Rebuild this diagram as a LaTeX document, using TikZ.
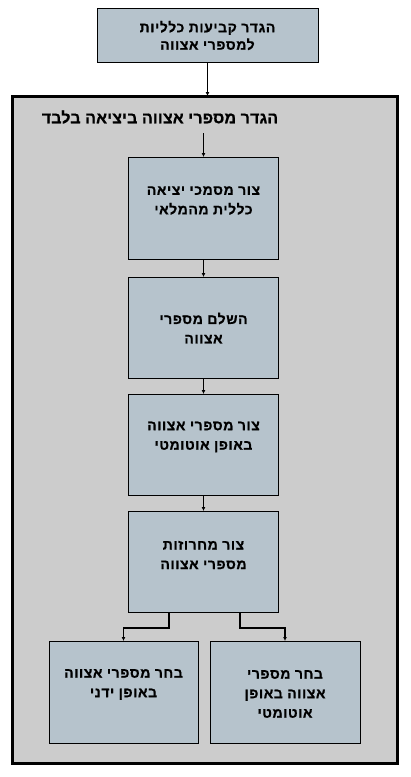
\documentclass[tikz,border=0pt]{standalone}
\usepackage{fontspec}
\newfontfamily\hebfont[Script=Hebrew, LetterSpace=4, FakeBold=0.8]{Liberation Sans}
\newfontfamily\hebtitle[Script=Hebrew, LetterSpace=1, FakeBold=0.8]{Liberation Sans}
\TeXXeTstate=1
\usetikzlibrary{arrows.meta}
\definecolor{boxfill}{HTML}{B6C3CC}
\definecolor{framefill}{HTML}{CCCCCC}
\newcommand{\heb}[1]{\beginR #1\endR}
\begin{document}
\begin{tikzpicture}[x=1pt,y=-1pt,
  boxst/.style={draw=black, line width=0.8pt, fill=boxfill, inner sep=0, outer sep=0},
  lbl/.style={font=\hebfont\bfseries\fontsize{14}{19.5}\selectfont, align=center, inner sep=0},
  conn/.style={line width=0.8pt, -{Latex[length=4pt,width=4pt]}},
  connb/.style={line width=1.8pt, -{Latex[length=4pt,width=4pt]}},
  connm/.style={line width=1.5pt, -{Latex[length=4pt,width=4pt]}}]
\useasboundingbox (0,0) rectangle (410,777);
% outer frame
\node[draw=black, line width=3pt, fill=framefill, minimum width=385pt, minimum height=667pt, inner sep=0, outer sep=0] (frame) at (204.5,429.5) {};
% top box
\node[boxst, minimum width=221pt, minimum height=54pt] (b0) at (207.5,35) {};
\node[lbl, font=\hebfont\bfseries\fontsize{14}{17.5}\selectfont] (t0) at (207.5,35.5) {\heb{הגדר קביעות כלליות}\\\heb{למספרי אצווה}};
% title
\node[inner sep=0, font=\hebtitle\bfseries\fontsize{16}{18}\selectfont] (title) at (160,117) {\heb{הגדר מספרי אצווה ביציאה בלבד}};
\coordinate (c0) at (203.5,133);
% boxes
\node[boxst, minimum width=150pt, minimum height=102pt] (b1) at (203.5,208) {};
\node[lbl] (t1) at (203.5,200.5) {\heb{צור מסמכי יציאה}\\\heb{כללית מהמלאי}};
\node[boxst, minimum width=150pt, minimum height=101pt] (b2) at (203.5,327.5) {};
\node[lbl] (t2) at (203.5,328) {\heb{השלם מספרי}\\\heb{אצווה}};
\node[boxst, minimum width=150pt, minimum height=101pt] (b3) at (203.5,444.5) {};
\node[lbl] (t3) at (203.5,437) {\heb{צור מספרי אצווה}\\\heb{באופן אוטומטי}};
\node[boxst, minimum width=150pt, minimum height=101pt] (b4) at (203.5,561.5) {};
\node[lbl] (t4) at (203.5,555) {\heb{צור מחרוזות}\\\heb{מספרי אצווה}};
\node[boxst, minimum width=149pt, minimum height=102pt] (bl) at (123.5,692) {};
\node[lbl] (tl) at (123.5,684.5) {\heb{בחר מספרי אצווה}\\\heb{באופן ידני}};
\node[boxst, minimum width=150pt, minimum height=102pt] (br) at (285,692) {};
\node[lbl] (tr) at (285,694) {\heb{בחר מספרי}\\\heb{אצווה באופן}\\\heb{אוטומטי}};
% connectors
\draw[connb] (b0.south) -- (b0.south |- frame.north);
\draw[conn] (c0) -- (b1.north);
\draw[connb] (b1.south) -- (b2.north);
\draw[conn] (b2.south) -- (b3.north);
\draw[conn] (b3.south) -- (b4.north);
\draw[connm] ([xshift=-34.5pt]b4.south) -- ++(0,16) -| (bl.north);
\draw[connm] ([xshift=36.5pt]b4.south) -- ++(0,16) -| (br.north);
\end{tikzpicture}
\end{document}
